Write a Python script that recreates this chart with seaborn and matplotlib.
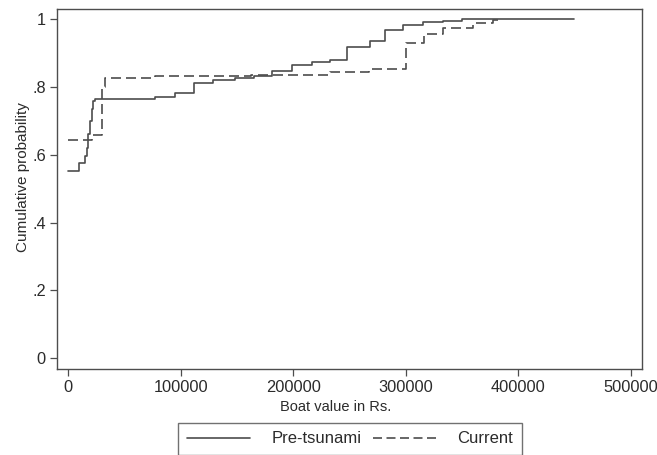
import matplotlib
matplotlib.use("Agg")
import matplotlib.pyplot as plt
import seaborn as sns
import pandas as pd
from matplotlib.lines import Line2D

# ---- data ----
pre_x = [0, 10000, 15000, 16500, 18000, 19500, 21000, 22500, 24000, 77000, 95000,
         112000, 129000, 148000, 165000, 181000, 199000, 217000, 233000, 248000,
         268000, 282000, 298000, 315000, 333000, 350000, 450000]
pre_y = [0.552, 0.575, 0.597, 0.62, 0.66, 0.70, 0.735, 0.758, 0.765, 0.770, 0.782,
         0.811, 0.820, 0.827, 0.833, 0.848, 0.866, 0.875, 0.880, 0.918,
         0.937, 0.969, 0.984, 0.991, 0.994, 1.0, 1.0]

cur_x = [0, 21000, 30000, 33000, 77000, 163000, 233000, 267000, 300000, 316000,
         333000, 360000, 378000, 385000]
cur_y = [0.644, 0.657, 0.80, 0.826, 0.831, 0.835, 0.843, 0.853, 0.929, 0.956,
         0.974, 0.988, 0.998, 0.998]

series_names = ["Pre-tsunami", "Current"]
x_ticks = [0, 100000, 200000, 300000, 400000, 500000]
y_ticks = [0, 0.2, 0.4, 0.6, 0.8, 1.0]
y_ticklabels = ["0", ".2", ".4", ".6", ".8", "1"]

sns.set_style("white")
plt.rcParams["font.family"] = ["Liberation Sans", "DejaVu Sans"]

LC = "#4d4d4d"
TC = "#2b2b2b"

fig = plt.figure(figsize=(6.57, 4.55), dpi=100)
ax = fig.add_axes([57/657, 1-369/455, (642-57)/657, (369-9)/455])

df_pre = pd.DataFrame({"x": pre_x, "y": pre_y})
df_cur = pd.DataFrame({"x": cur_x, "y": cur_y})

sns.lineplot(data=df_pre, x="x", y="y", ax=ax, estimator=None, sort=False,
             drawstyle="steps-post", color=LC, linewidth=1.2)
sns.lineplot(data=df_cur, x="x", y="y", ax=ax, estimator=None, sort=False,
             drawstyle="steps-post", color=LC, linewidth=1.2, dashes=False,
             linestyle=(0, (6, 3)))

ax.set_xlim(-9800, 510000)
ax.set_ylim(-0.032, 1.03)
ax.set_xticks(x_ticks)
ax.set_xticklabels([str(v) for v in x_ticks])
ax.set_yticks(y_ticks)
ax.set_yticklabels(y_ticklabels)

for s in ax.spines.values():
    s.set_color(LC)
    s.set_linewidth(1.0)

ax.tick_params(axis="both", which="major", direction="out", length=5, width=0.9,
               color=LC, labelcolor=TC, labelsize=11.8, bottom=True, left=True, pad=3)
ax.set_xlabel("Boat value in Rs.", fontsize=10.5, color=TC)
ax.set_ylabel("Cumulative probability", fontsize=11, color=TC)
ax.xaxis.set_label_coords((336 - 57) / 585, -0.087)
ax.yaxis.set_label_coords((30 - 57) / 585, (369 - 177.5) / 360)

handles = [Line2D([], [], color=LC, linewidth=1.2),
           Line2D([], [], color=LC, linewidth=1.2, linestyle=(0, (5.4, 2.7)))]
leg = fig.legend(handles, series_names, ncol=2, loc="upper center",
                 bbox_to_anchor=(350/657, 1-423/455), borderaxespad=0,
                 frameon=True, fancybox=False,
                 fontsize=12, handlelength=3.8, handletextpad=1.3, columnspacing=0.65,
                 borderpad=0.5, labelcolor=TC)
leg.get_frame().set_edgecolor(LC)
leg.get_frame().set_linewidth(1.0)

fig.savefig("out.png", dpi=100, facecolor="white")
